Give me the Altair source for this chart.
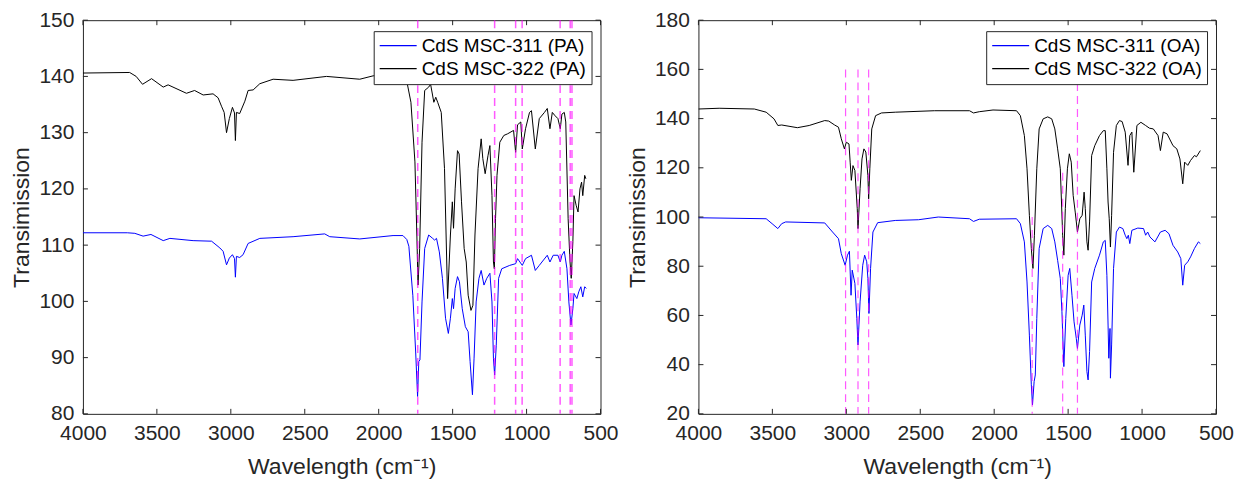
import altair as alt
import pandas as pd

FONT = "Liberation Sans"
TXT = "#262626"

X_TICKS = [4000, 3500, 3000, 2500, 2000, 1500, 1000, 500]
Y_TICKS_PA = [80, 90, 100, 110, 120, 130, 140, 150]
Y_TICKS_OA = [20, 40, 60, 80, 100, 120, 140, 160, 180]

NAMES_PA = ["CdS MSC-311 (PA)", "CdS MSC-322 (PA)"]
NAMES_OA = ["CdS MSC-311 (OA)", "CdS MSC-322 (OA)"]

# ---- Left panel: PA ----
wn_pa311 = [4000, 3700, 3649, 3593, 3540, 3457, 3412, 3255, 3130, 3074, 3052, 3029, 3010, 2989, 2975, 2969, 2962,
            2940, 2917, 2883, 2804, 2579, 2365, 2331, 2128, 1903, 1836, 1810, 1796, 1769, 1750, 1737, 1729, 1721,
            1707, 1689, 1662, 1635, 1622, 1609, 1590, 1569, 1548, 1529, 1515, 1502, 1494, 1483, 1467, 1454, 1435,
            1414, 1395, 1382, 1366, 1355, 1341, 1322, 1307, 1288, 1269, 1248, 1234, 1224, 1216, 1205, 1189, 1168,
            1114, 1074, 1061, 1029, 1007, 967, 941, 914, 860, 842, 820, 788, 772, 761, 745, 727, 714, 700, 687,
            679, 660, 647, 633, 620, 607, 596]
t_pa311 = [112.2, 112.2, 112.1, 111.6, 111.9, 110.8, 111.2, 110.8, 110.7, 109.5, 108.9, 106.5, 107.7, 108.3, 107.6,
           104.3, 108.0, 107.8, 108.3, 110.3, 111.2, 111.5, 112.0, 111.5, 111.1, 111.7, 111.7, 111.0, 109.8, 101.0,
           91.0, 83.1, 89.3, 89.6, 99.9, 109.4, 111.8, 111.2, 110.9, 111.2, 108.8, 104.1, 97.0, 94.3, 97.0, 100.5,
           98.7, 102.3, 104.4, 103.5, 98.7, 95.5, 94.6, 89.3, 83.4, 89.9, 99.9, 104.1, 105.5, 102.9, 104.1, 105.0,
           99.9, 89.9, 86.9, 92.2, 104.1, 105.8, 106.4, 106.7, 107.6, 106.4, 107.6, 108.2, 105.5, 106.4, 108.2,
           107.0, 108.2, 108.2, 107.0, 108.2, 108.9, 105.8, 99.9, 95.8, 98.7, 101.4, 100.5, 101.7, 102.6, 100.8,
           102.6, 102.3]

wn_pa322 = [4000, 3684, 3640, 3597, 3536, 3457, 3424, 3300, 3245, 3187, 3120, 3086, 3063, 3045, 3029, 3010, 2989,
            2975, 2969, 2962, 2940, 2905, 2883, 2849, 2804, 2714, 2579, 2353, 2128, 2038, 1996, 1900, 1809, 1782,
            1755, 1742, 1734, 1723, 1707, 1689, 1662, 1649, 1627, 1614, 1601, 1577, 1555, 1534, 1515, 1502, 1494,
            1483, 1467, 1456, 1440, 1422, 1408, 1395, 1376, 1363, 1349, 1328, 1307, 1296, 1280, 1261, 1248, 1234,
            1224, 1218, 1210, 1200, 1181, 1154, 1128, 1088, 1074, 1061, 1039, 1029, 1007, 980, 967, 941, 914, 879,
            860, 842, 826, 807, 788, 772, 761, 745, 735, 719, 706, 698, 687, 679, 665, 652, 639, 628, 620, 607, 599]
t_pa322 = [140.6, 140.7, 140.0, 138.6, 139.6, 138.1, 138.5, 137.0, 137.5, 136.7, 136.9, 136.2, 134.7, 133.6, 130.0,
           132.5, 134.5, 133.5, 128.6, 133.6, 133.4, 135.6, 137.5, 137.6, 138.7, 139.5, 139.3, 140.0, 139.5, 140.1,
           140.2, 140.5, 139.0, 135.4, 124.8, 111.8, 102.9, 109.4, 128.3, 137.5, 138.1, 138.6, 135.4, 136.3, 135.4,
           133.6, 123.6, 100.5, 111.8, 117.7, 113.0, 120.0, 126.8, 126.2, 117.7, 109.4, 107.0, 101.1, 98.4, 99.3,
           111.8, 123.6, 128.9, 125.4, 122.7, 125.9, 127.7, 118.8, 107.0, 105.8, 114.7, 122.4, 128.3, 129.5, 129.8,
           130.4, 126.5, 131.4, 131.9, 127.1, 130.7, 133.6, 133.9, 127.1, 132.5, 133.6, 134.3, 130.7, 133.6, 133.0,
           132.5, 130.7, 133.3, 133.6, 131.9, 114.7, 107.0, 104.1, 110.6, 118.8, 117.1, 115.9, 120.0, 121.2, 118.8,
           122.4, 121.8]

vl_pa_wn = [1736, 1216, 1074, 1030, 773, 705, 693]
vl_pa_top = [150, 150, 150, 150, 150, 150, 150]
vl_pa_bottom = [80, 80, 80, 80, 80, 80, 80]

# ---- Right panel: OA ----
wn_oa311 = [4000, 3542, 3502, 3463, 3437, 3410, 3146, 3093, 3053, 3034, 3008, 2992, 2979, 2968, 2960, 2942, 2929,
            2921, 2907, 2889, 2876, 2862, 2854, 2847, 2836, 2820, 2788, 2669, 2511, 2378, 2167, 2140, 2101, 1849,
            1823, 1796, 1778, 1762, 1749, 1741, 1730, 1722, 1712, 1696, 1669, 1638, 1611, 1590, 1571, 1553, 1542,
            1529, 1516, 1500, 1489, 1474, 1460, 1445, 1437, 1421, 1405, 1394, 1384, 1373, 1365, 1355, 1341, 1320,
            1288, 1262, 1249, 1238, 1230, 1225, 1217, 1214, 1206, 1193, 1174, 1153, 1130, 1114, 1103, 1093, 1083,
            1069, 1029, 990, 976, 962, 947, 913, 876, 844, 818, 791, 759, 738, 725, 712, 691, 672, 646, 619, 606]
t_oa311 = [99.7, 99.3, 97.3, 95.3, 97.3, 98.0, 97.6, 93.9, 91.2, 85.1, 80.4, 84.5, 86.1, 68.2, 78.4, 73.0, 58.8,
           48.0, 65.5, 80.4, 84.5, 81.8, 75.0, 60.8, 79.1, 93.9, 97.7, 98.6, 98.9, 100.0, 99.3, 98.2, 99.1, 99.3,
           97.3, 89.9, 73.6, 52.0, 31.8, 23.6, 33.1, 35.8, 58.8, 87.2, 95.3, 96.6, 95.3, 89.9, 82.4, 75.0, 61.5,
           39.2, 58.8, 76.3, 79.1, 68.2, 57.4, 50.7, 46.6, 56.1, 60.1, 64.2, 52.0, 37.2, 33.8, 45.3, 73.6, 79.1,
           84.5, 89.9, 90.5, 76.3, 56.1, 42.6, 54.7, 34.5, 48.0, 79.1, 93.9, 95.9, 95.3, 92.6, 91.2, 92.6, 89.2,
           94.6, 95.5, 95.3, 92.6, 93.9, 91.9, 89.9, 93.9, 94.6, 93.2, 88.5, 85.8, 83.1, 72.3, 80.4, 81.8, 83.8,
           87.2, 89.9, 89.2]

wn_oa322 = [4000, 3860, 3622, 3542, 3489, 3463, 3437, 3331, 3251, 3146, 3119, 3079, 3053, 3034, 3013, 3000, 2982,
            2974, 2966, 2955, 2942, 2926, 2921, 2907, 2894, 2881, 2868, 2854, 2849, 2841, 2828, 2802, 2762, 2669,
            2405, 2167, 2140, 2101, 2008, 1849, 1823, 1796, 1778, 1762, 1749, 1738, 1728, 1712, 1696, 1669, 1638,
            1611, 1590, 1571, 1553, 1537, 1529, 1519, 1505, 1492, 1479, 1466, 1452, 1437, 1421, 1405, 1392, 1384,
            1373, 1365, 1355, 1341, 1320, 1288, 1262, 1249, 1238, 1230, 1222, 1214, 1206, 1193, 1174, 1153, 1135,
            1114, 1095, 1083, 1069, 1056, 1035, 1008, 976, 950, 924, 892, 876, 857, 831, 791, 765, 744, 725, 712,
            691, 672, 646, 632, 606]
t_oa322 = [143.9, 144.2, 143.9, 142.6, 139.9, 137.2, 137.4, 136.3, 137.2, 139.2, 139.0, 137.4, 136.5, 131.8, 127.7,
           130.4, 129.7, 122.3, 114.9, 120.9, 118.9, 103.4, 95.3, 111.5, 123.6, 127.7, 126.4, 116.9, 107.4, 119.6,
           135.8, 141.2, 142.3, 142.6, 143.2, 143.2, 142.3, 142.8, 143.5, 143.2, 141.2, 133.1, 119.6, 100.7, 87.2,
           79.1, 92.6, 119.6, 135.8, 139.9, 140.7, 139.9, 135.8, 127.7, 119.6, 92.6, 84.5, 103.4, 119.6, 125.7,
           122.3, 108.8, 102.0, 93.9, 99.3, 100.7, 110.1, 103.4, 89.9, 86.5, 98.0, 125.0, 129.0, 133.1, 135.1,
           135.1, 119.6, 106.1, 99.3, 87.8, 100.7, 126.3, 137.2, 139.2, 138.8, 134.5, 121.0, 133.1, 134.5, 118.2,
           137.2, 138.5, 137.2, 136.1, 135.8, 133.1, 127.0, 134.5, 133.8, 129.0, 127.7, 123.6, 113.5, 122.3, 121.0,
           123.0, 125.0, 124.5, 127.0]

vl_oa_wn = [3005, 2921, 2849, 1743, 1537, 1437]
vl_oa_top = [160, 160, 160, 100, 118, 154.5]
vl_oa_bottom = [20, 20, 20, 20, 20, 20]

W, H = 518, 394
TICK = 5


def panel(wn_a, t_a, wn_b, t_b, names, vwn, vtop, vbot, ydom, yticks, legend_x, dash_w):
    df = pd.concat([
        pd.DataFrame({"wn": wn_a, "t": t_a, "series": names[0]}),
        pd.DataFrame({"wn": wn_b, "t": t_b, "series": names[1]}),
    ])
    xs = alt.Scale(domain=[500, 4000], reverse=True, nice=False, zero=False)
    ys = alt.Scale(domain=ydom, nice=False, zero=False)
    x = alt.X("wn:Q", scale=xs, axis=alt.Axis(values=X_TICKS, format="d", title="Wavelength (cm⁻¹)",
                                              labelFlush=False, labelOverlap=False))
    y = alt.Y("t:Q", scale=ys, axis=alt.Axis(values=yticks, format="d", title="Transimission",
                                             labelFlush=False, labelOverlap=False))

    lines = alt.Chart(df).mark_line(strokeWidth=1, clip=True).encode(
        x=x, y=y,
        color=alt.Color("series:N", scale=alt.Scale(domain=names, range=["#0000ff", "#000000"]),
                        legend=alt.Legend(title=None, orient="none", legendX=legend_x, legendY=11)),
    )
    vdf = pd.DataFrame({"wn": vwn, "t": vtop, "t2": vbot})
    vlines = alt.Chart(vdf).mark_rule(color="#ff00ff", strokeDash=[8, 5], strokeWidth=dash_w, opacity=0.65).encode(
        x=alt.X("wn:Q"), y=alt.Y("t:Q"), y2="t2:Q"
    )
    xt = pd.DataFrame({"wn": X_TICKS})
    yt = pd.DataFrame({"t": yticks})
    tb = alt.Chart(xt).mark_rule(color=TXT, strokeWidth=1).encode(x="wn:Q", y=alt.value(H), y2=alt.value(H - TICK))
    tt = alt.Chart(xt).mark_rule(color=TXT, strokeWidth=1).encode(x="wn:Q", y=alt.value(0), y2=alt.value(TICK))
    tl = alt.Chart(yt).mark_rule(color=TXT, strokeWidth=1).encode(y="t:Q", x=alt.value(0), x2=alt.value(TICK))
    tr = alt.Chart(yt).mark_rule(color=TXT, strokeWidth=1).encode(y="t:Q", x=alt.value(W), x2=alt.value(W - TICK))
    return alt.layer(lines, vlines, tb, tt, tl, tr).properties(width=W, height=H)


left = panel(wn_pa311, t_pa311, wn_pa322, t_pa322, NAMES_PA, vl_pa_wn, vl_pa_top, vl_pa_bottom,
             [80, 150], Y_TICKS_PA, 291, 1.5)
right = panel(wn_oa311, t_oa311, wn_oa322, t_oa322, NAMES_OA, vl_oa_wn, vl_oa_top, vl_oa_bottom,
              [20, 180], Y_TICKS_OA, 288, 1.2)

chart = (
    alt.hconcat(left, right, spacing=6)
    .resolve_scale(x="independent", y="independent", color="independent")
    .resolve_legend(color="independent")
    .configure_view(stroke=TXT, strokeWidth=1)
    .configure_axis(
        labelFont=FONT, labelFontSize=21, labelColor=TXT, labelPadding=9,
        titleFont=FONT, titleFontSize=23, titleColor=TXT, titleFontWeight="normal",
        ticks=False, domain=False, grid=False,
    )
    .configure_axisX(titlePadding=12)
    .configure_axisY(titlePadding=5)
    .configure_legend(
        labelFont=FONT, labelFontSize=19, labelColor="#000000", padding=5, strokeColor=TXT, fillColor="white",
        symbolType="stroke", symbolSize=1369, symbolStrokeWidth=1.3, rowPadding=3, labelOffset=4,
        cornerRadius=0, clipHeight=19, strokeWidth=1, labelLimit=400,
    )
    .properties(padding={"left": 10, "top": 8, "right": 0, "bottom": 0}, background="white")
)

chart.save("out.html", embed_options={"renderer": "svg", "actions": False})
